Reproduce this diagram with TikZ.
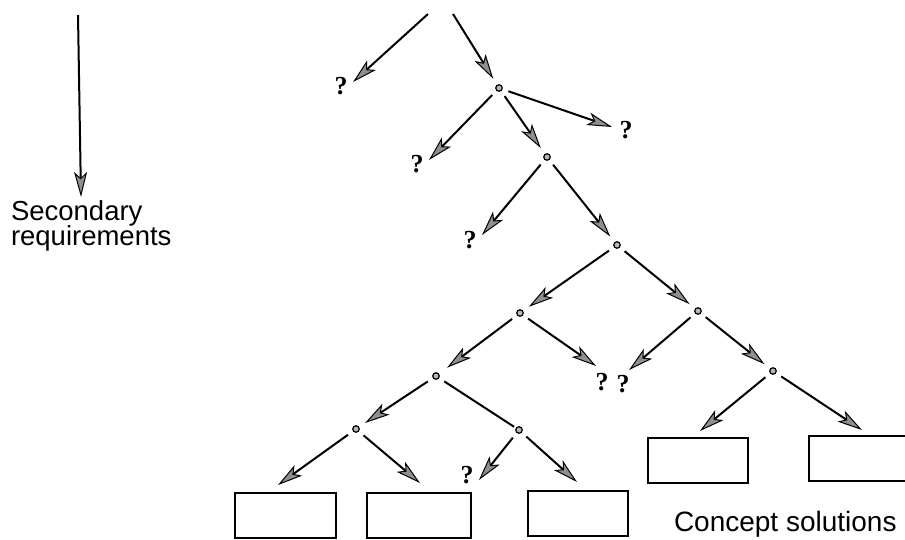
\documentclass[tikz,border=0pt]{standalone}
\usepackage{fontspec}
\setmainfont{Liberation Sans}
\newfontfamily\qfont{Liberation Serif}
\usetikzlibrary{arrows.meta}
\newcommand\tightlines{\lineskiplimit=-30pt\lineskip=0pt\relax}

\begin{document}
\begin{tikzpicture}[x=1pt,y=-1pt,
  line width=2pt,
  tip/.style={-{Stealth[length=25pt,width=13pt,inset=6pt,fill=gray!75!black!70,line width=1pt]}},
  dot/.style={circle,inner sep=0pt,minimum size=6.5pt,draw=black,fill=gray!55,line width=1.2pt},
  qm/.style={inner sep=0pt,font=\qfont\bfseries\fontsize{26}{26}\selectfont},
  soln/.style={draw,line width=2pt,minimum width=101pt,minimum height=45pt,inner sep=0pt},
  lbl/.style={inner sep=0pt,align=left,font={\fontsize{28}{23.5}\selectfont\tightlines}},
  seclbl/.style={lbl,font={\fontsize{27.5}{25.5}\selectfont\tightlines}},
  gap/.style={shorten <=6pt,shorten >=7pt}
]
\clip (0,0) rectangle (905,540);

% direction of refinement
\coordinate (s0) at (78,15);
\coordinate (s1) at (81,197);
\draw[tip] (s0) -- (s1);
\node[seclbl,anchor=base west] (seclbl) at (10,246) {Secondary\\requirements};

% decision points
\node[dot] (N1) at (499,88) {};
\node[dot] (N2) at (547,157) {};
\node[dot] (N3) at (617,245) {};
\node[dot] (N4) at (520,313) {};
\node[dot] (N5) at (698,311) {};
\node[dot] (N6) at (773,371) {};
\node[dot] (N7) at (436,376) {};
\node[dot] (N8) at (356,429) {};
\node[dot] (N9) at (519,430) {};

% open branches
\node[qm] (q1) at (341,86) {?};
\node[qm] (q2) at (417,164) {?};
\node[qm] (q3) at (626,130) {?};
\node[qm] (q4) at (470,240) {?};
\node[qm] (q5) at (602,382) {?};
\node[qm] (q6) at (623,384) {?};
\node[qm] (q7) at (467,475) {?};

% concept solutions
\node[soln] (b1) at (285.5,515.5) {};
\node[soln,minimum width=104pt] (b2) at (419,515.5) {};
\node[soln,minimum width=100pt] (b3) at (578,513) {};
\node[soln,minimum width=100pt] (b4) at (698,460) {};
\node[soln] (b5) at (859,458.5) {};
\node[lbl,anchor=base west] (cslbl) at (673,531) {Concept solutions};

% free ends of the branches
\coordinate (t1) at (428,14);
\coordinate (t2) at (453,14);
\coordinate (e1) at (353,82);
\coordinate (e2) at (429,160);
\coordinate (e3) at (612,127);
\coordinate (e4) at (482,235);
\coordinate (e5) at (596,366);
\coordinate (e6) at (629,370);
\coordinate (e7) at (278,485);
\coordinate (e8) at (420,483);
\coordinate (e9) at (479,480);
\coordinate (e10) at (577,482);
\coordinate (e11) at (700,431);
\coordinate (e12) at (862,430);

% branches
\draw[tip] (t1) -- (e1);
\draw[tip,shorten >=7pt] (t2) -- (N1);
\draw[tip,shorten <=6pt] (N1) -- (e2);
\draw[tip,shorten <=6pt] (N1) -- (e3);
\draw[tip,gap] (N1) -- (N2);
\draw[tip,shorten <=6pt] (N2) -- (e4);
\draw[tip,gap] (N2) -- (N3);
\draw[tip,gap] (N3) -- (N4);
\draw[tip,gap] (N3) -- (N5);
\draw[tip,shorten <=6pt] (N4) -- (e5);
\draw[tip,shorten <=6pt] (N5) -- (e6);
\draw[tip,shorten <=6pt,shorten >=10pt] (N4) -- (N7);
\draw[tip,gap] (N5) -- (N6);
\draw[tip,gap] (N7) -- (N8);
\draw[shorten <=6pt,shorten >=2pt] (N7) -- (N9);
\draw[tip,shorten <=6pt] (N8) -- (e7);
\draw[tip,shorten <=6pt] (N8) -- (e8);
\draw[tip,shorten <=6pt] (N9) -- (e9);
\draw[tip,shorten <=6pt] (N9) -- (e10);
\draw[tip,shorten <=6pt] (N6) -- (e11);
\draw[tip,shorten <=6pt] (N6) -- (e12);
\end{tikzpicture}
\end{document}
